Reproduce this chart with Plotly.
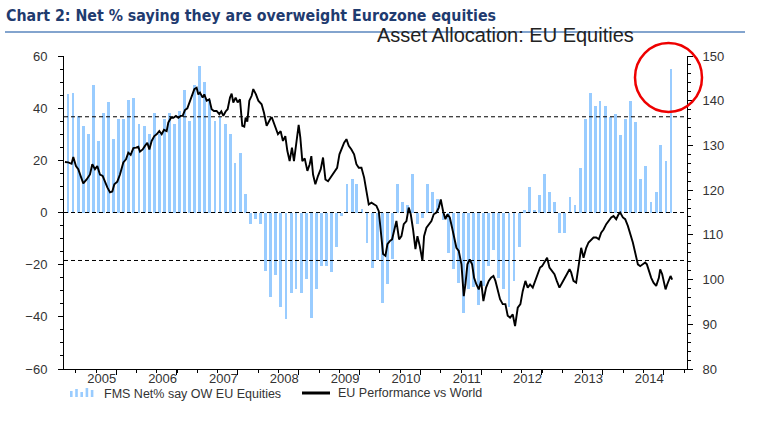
import plotly.graph_objects as go
import pandas as pd

# ---------------- text ----------------
title_text = "Chart 2: Net % saying they are overweight Eurozone equities"
subtitle_text = "Asset Allocation: EU Equities"
bar_name = "FMS Net% say OW EU Equities"
line_name = "EU Performance vs World"

# ---------------- data ----------------
# Monthly FMS net % overweight Eurozone equities, Jun 2004 .. May 2014 (left axis)
first_survey = "2004-06-12"
fms_net_ow = [
    45.5, 46, 37, 33, 30, 49, 27.3, 38, 42.5, 28,
    36, 36, 43, 44, 34, 33, 30, 38, 30, 36,
    38, 34, 39, 47, 35, 49, 56, 50, 43, 35,
    36.5, 34, 30, 19, 23, 7, -4.5, -2.5, -4.5, -22.5,
    -32.3, -24, -36.2, -41, -31, -29.4, -31, -25.5, -40.4, -29.4,
    -20.5, -20.5, -23, -13.2, -1.3, 10.9, 12.8, 10.9, 1.5, -11.7,
    -21.2, -18.4, -34.6, -27.4, -18, 10.9, 4, 2.7, 14.7, -4.3,
    -2, 10.9, 7.8, 5.1, -3, -15.5, -21.5, -27, -38.5, -29.5,
    -28.5, -35.3, -28, -20.6, -14.5, -25, -29.5, -36.2, -26.2, -13.2,
    0.9, 9.8, 0.9, 6.6, 14.7, 7.8, 4, -8, -8, 6,
    2.8, 17, 35.8, 45.8, 40.8, 42.7, 40.8, 36.7, 37.7, 29.6,
    35.8, 42.7, 34.6, 12.8, 17.8, 4, 7.8, 25.8, 19.7, 55,
]

# EU performance vs world (right axis), time in decimal years
perf_year = [
    2004.395, 2004.449, 2004.504, 2004.532, 2004.576, 2004.614, 2004.652, 2004.696, 2004.751, 2004.806,
    2004.844, 2004.888, 2004.926, 2004.970, 2005.014, 2005.053, 2005.091, 2005.135, 2005.173, 2005.206,
    2005.255, 2005.299, 2005.354, 2005.398, 2005.436, 2005.475, 2005.519, 2005.562, 2005.601, 2005.628,
    2005.672, 2005.710, 2005.749, 2005.782, 2005.820, 2005.864, 2005.902, 2005.946, 2005.985, 2006.023,
    2006.067, 2006.094, 2006.138, 2006.177, 2006.220, 2006.259, 2006.297, 2006.330, 2006.368, 2006.407,
    2006.451, 2006.489, 2006.522, 2006.560, 2006.588, 2006.615, 2006.659, 2006.686, 2006.725, 2006.769,
    2006.807, 2006.845, 2006.889, 2006.933, 2006.966, 2006.999, 2007.037, 2007.070, 2007.109, 2007.136,
    2007.163, 2007.202, 2007.235, 2007.273, 2007.311, 2007.344, 2007.366, 2007.394, 2007.427, 2007.465,
    2007.492, 2007.536, 2007.575, 2007.629, 2007.668, 2007.712, 2007.756, 2007.783, 2007.799, 2007.832,
    2007.871, 2007.898, 2007.942, 2007.980, 2008.019, 2008.052, 2008.090, 2008.128, 2008.161, 2008.200,
    2008.238, 2008.265, 2008.298, 2008.337, 2008.381, 2008.419, 2008.446, 2008.474, 2008.512, 2008.556,
    2008.600, 2008.638, 2008.677, 2008.720, 2008.775, 2008.830, 2008.869, 2008.907, 2008.951, 2008.984,
    2009.022, 2009.060, 2009.104, 2009.148, 2009.186, 2009.225, 2009.269, 2009.313, 2009.351, 2009.389,
    2009.433, 2009.477, 2009.515, 2009.554, 2009.598, 2009.625, 2009.663, 2009.696, 2009.735, 2009.773,
    2009.806, 2009.844, 2009.888, 2009.927, 2009.965, 2010.009, 2010.047, 2010.080, 2010.118, 2010.157,
    2010.190, 2010.228, 2010.272, 2010.299, 2010.338, 2010.382, 2010.420, 2010.458, 2010.502, 2010.541,
    2010.574, 2010.612, 2010.650, 2010.683, 2010.722, 2010.760, 2010.793, 2010.831, 2010.870, 2010.914,
    2010.952, 2010.979, 2011.012, 2011.050, 2011.089, 2011.122, 2011.160, 2011.199, 2011.237, 2011.275,
    2011.319, 2011.363, 2011.401, 2011.440, 2011.473, 2011.511, 2011.549, 2011.593, 2011.637, 2011.675,
    2011.714, 2011.758, 2011.796, 2011.840, 2011.884, 2011.922, 2011.966, 2012.004, 2012.043, 2012.087,
    2012.130, 2012.169, 2012.207, 2012.240, 2012.279, 2012.322, 2012.361, 2012.405, 2012.443, 2012.481,
    2012.525, 2012.569, 2012.607, 2012.646, 2012.690, 2012.717, 2012.755, 2012.799, 2012.843, 2012.881,
    2012.920, 2012.964, 2013.002, 2013.046, 2013.084, 2013.128, 2013.172, 2013.210, 2013.249, 2013.293,
    2013.331, 2013.375, 2013.413, 2013.457, 2013.496, 2013.523, 2013.567, 2013.605, 2013.649, 2013.687,
    2013.731, 2013.770, 2013.814, 2013.852, 2013.896, 2013.934, 2013.962, 2013.995, 2014.033, 2014.071,
    2014.115, 2014.159, 2014.181, 2014.214, 2014.241, 2014.269, 2014.296, 2014.324, 2014.351, 2014.378,
]
perf_value = [
    126.3, 126.2, 125.9, 127.4, 125.4, 124.7, 123.2, 121.5, 122.4, 123.5,
    125.8, 124.7, 125.4, 123.5, 123.2, 121.7, 120.6, 119.5, 119.7, 121.3,
    121.9, 123.5, 126.2, 126.9, 128.4, 127.9, 129.4, 129.5, 129.7, 128.6,
    129.1, 129.9, 130.6, 129.1, 131.0, 132.1, 132.5, 133.2, 132.5, 133.5,
    133.2, 135.1, 136.2, 136.2, 136.6, 136.2, 136.6, 136.6, 137.9, 138.3,
    140.0, 141.4, 142.6, 142.9, 141.4, 141.8, 140.7, 141.4, 140.0, 140.3,
    138.1, 137.7, 137.7, 137.0, 137.6, 136.6, 137.6, 138.1, 140.7, 141.6,
    139.6, 140.7, 139.6, 140.3, 134.4, 134.2, 136.2, 135.3, 140.0, 141.1,
    142.6, 141.4, 140.0, 139.2, 137.3, 134.4, 135.4, 136.2, 136.2, 134.9,
    133.6, 132.5, 133.2, 131.0, 132.1, 128.8, 126.5, 129.5, 126.5, 131.0,
    134.6, 131.8, 126.5, 127.1, 124.3, 125.8, 127.6, 123.5, 121.3, 123.2,
    124.7, 127.3, 122.4, 122.0, 123.2, 124.3, 125.0, 128.0, 129.5, 130.6,
    131.4, 129.9, 129.1, 128.0, 125.8, 125.0, 125.0, 122.8, 119.8, 116.8,
    117.2, 116.8, 116.5, 115.3, 109.4, 105.7, 105.3, 107.9, 108.6, 109.0,
    110.9, 113.1, 109.0, 109.7, 112.4, 113.1, 116.1, 114.6, 111.2, 106.8,
    109.7, 107.5, 104.2, 109.7, 111.6, 112.5, 113.1, 114.6, 115.0, 116.1,
    117.9, 115.3, 113.5, 114.6, 113.9, 111.6, 109.7, 107.1, 106.4, 103.4,
    96.3, 98.9, 103.4, 104.5, 103.4, 100.4, 98.9, 97.8, 99.7, 95.2,
    98.2, 99.7, 100.4, 100.8, 99.7, 97.4, 95.6, 94.5, 94.5, 91.9,
    91.5, 92.2, 89.6, 93.7, 94.5, 97.4, 99.7, 98.2, 98.9, 98.2,
    99.7, 101.2, 102.7, 103.0, 103.8, 104.9, 102.7, 101.9, 101.2, 99.7,
    98.2, 99.3, 100.4, 101.2, 102.3, 101.6, 99.7, 99.3, 103.4, 107.1,
    104.9, 107.1, 108.3, 109.0, 109.4, 109.4, 109.0, 110.5, 111.2, 112.4,
    113.1, 113.9, 114.2, 113.5, 114.6, 115.0, 113.9, 113.5, 112.0, 110.5,
    108.3, 106.0, 103.4, 103.0, 103.4, 103.8, 103.4, 101.9, 100.4, 99.3,
    98.6, 100.4, 102.3, 101.2, 99.7, 97.8, 98.9, 100.0, 100.8, 100.0,
]

year_labels = list(range(2005, 2015))
left_ticks = [-60, -40, -20, 0, 20, 40, 60]
right_ticks = [80, 90, 100, 110, 120, 130, 140, 150]
ref_levels = [36.7, 0, -18.4]          # dashed reference lines (left axis)
x_range = ["2004-05-19", "2014-08-16"]

# ---------------- helpers ----------------
def decyear(t):
    y = int(t)
    s = pd.Timestamp(y, 1, 1)
    e = pd.Timestamp(y + 1, 1, 1)
    return s + (e - s) * (t - y)

survey_dates = pd.date_range(first_survey, periods=len(fms_net_ow), freq=pd.DateOffset(months=1))
perf_dates = [decyear(t) for t in perf_year]

W, H = 771, 430
L, R, T, B = 64, 84, 56, 61
PW, PH = W - L - R, H - T - B

def xp(px):
    return (px - L) / PW

def yp(py):
    return (H - B - py) / PH

BAR_BLUE = "#99CCFF"
TXT = "#333333"
NAVY = "#1F3B6F"
AXFONT = dict(family="Liberation Sans, Arial, sans-serif", size=13, color=TXT)
LEGFONT = dict(family="Liberation Sans, Arial, sans-serif", size=12.5, color=TXT)

fig = go.Figure()
fig.add_trace(go.Bar(
    x=survey_dates, y=fms_net_ow, name=bar_name,
    marker=dict(color=BAR_BLUE, line=dict(width=0)),
    width=17 * 86400000, showlegend=False, xaxis="x", yaxis="y",
))
fig.add_trace(go.Scatter(
    x=perf_dates, y=perf_value, name=line_name, mode="lines",
    line=dict(color="black", width=1.9), showlegend=False, xaxis="x", yaxis="y2",
))

shapes = []
for lvl in ref_levels:
    shapes.append(dict(type="line", xref="paper", x0=0, x1=1, yref="y", y0=lvl, y1=lvl,
                       line=dict(color="black", width=1, dash="4px,3px"), layer="above"))
# title rule
shapes.append(dict(type="line", xref="paper", yref="paper", x0=xp(5), x1=xp(745),
                   y0=yp(32), y1=yp(32), line=dict(color="#5A86BE", width=1.5)))
# red highlight circle around latest reading
shapes.append(dict(type="circle", xref="paper", yref="paper", x0=xp(635), x1=xp(702),
                   y0=yp(112), y1=yp(43), line=dict(color="#EE0000", width=2.5)))
# legend icons
icon_h = [6, 8, 5, 9, 7]
for i, h in enumerate(icon_h):
    x0 = 70 + i * 5.2
    shapes.append(dict(type="rect", xref="paper", yref="paper", x0=xp(x0), x1=xp(x0 + 2.6),
                       y0=yp(397), y1=yp(397 - h), fillcolor=BAR_BLUE, line=dict(width=0)))
shapes.append(dict(type="line", xref="paper", yref="paper", x0=xp(302), x1=xp(330),
                   y0=yp(393), y1=yp(393), line=dict(color="black", width=3)))

annotations = [
    dict(text="<b>" + title_text + "</b>", xref="paper", yref="paper", x=xp(4), y=yp(16),
         xanchor="left", yanchor="middle", showarrow=False,
         font=dict(family="DejaVu Sans Condensed, Liberation Sans Narrow, sans-serif",
                   size=15.8, color=NAVY)),
    dict(text=subtitle_text, xref="paper", yref="paper", x=xp(375), y=yp(35), xanchor="left", yanchor="middle",
         showarrow=False, font=dict(family="Liberation Sans, Arial, sans-serif", size=20, color="#222222")),
    dict(text=bar_name, xref="paper", yref="paper", x=xp(102), y=yp(394), xanchor="left", yanchor="middle",
         showarrow=False, font=LEGFONT),
    dict(text=line_name, xref="paper", yref="paper", x=xp(336), y=yp(393), xanchor="left", yanchor="middle",
         showarrow=False, font=LEGFONT),
]

major_x = [pd.Timestamp(y, 3, 28) for y in year_labels]

fig.update_layout(
    width=W, height=H,
    margin=dict(l=L, r=R, t=T, b=B, autoexpand=False),
    paper_bgcolor="white", plot_bgcolor="white",
    bargap=0, showlegend=False,
    shapes=shapes, annotations=annotations,
    xaxis=dict(
        type="date", range=x_range, showgrid=False, zeroline=False,
        showline=True, linecolor="black", linewidth=1,
        tickmode="array", tickvals=[pd.Timestamp(y, 1, 1) for y in year_labels],
        ticktext=[str(y) for y in year_labels], ticks="", tickfont=AXFONT,
        ticklabelstandoff=-3,
        minor=dict(tickmode="linear", tick0="2004-07-28", dtick="M4", ticks="outside",
                   ticklen=3, tickcolor="black", showgrid=False),
    ),
    xaxis2=dict(
        type="date", range=x_range, overlaying="x", anchor="y", side="bottom",
        showgrid=False, zeroline=False, showline=False, showticklabels=False,
        tickmode="array", tickvals=major_x, ticks="outside", ticklen=5, tickcolor="black",
    ),
    yaxis=dict(
        range=[-60, 60], tickmode="array", tickvals=left_ticks, ticks="outside", ticklen=5,
        tickcolor="black", showline=True, linecolor="black", linewidth=1,
        showgrid=False, zeroline=False, tickfont=AXFONT, ticklabelstandoff=8,
        minor=dict(tickmode="linear", tick0=0, dtick=5, ticks="outside", ticklen=3,
                   tickcolor="black", showgrid=False),
    ),
    yaxis2=dict(
        range=[80, 150], overlaying="y", side="right", anchor="x",
        tickmode="array", tickvals=right_ticks, ticks="outside", ticklen=5,
        tickcolor="black", showline=True, linecolor="black", linewidth=1,
        showgrid=False, zeroline=False, tickfont=AXFONT, ticklabelstandoff=7,
        minor=dict(tickmode="linear", tick0=80, dtick=2, ticks="outside", ticklen=3,
                   tickcolor="black", showgrid=False),
    ),
)
# an invisible trace so xaxis2 renders its tick marks
fig.add_trace(go.Scatter(x=[survey_dates[0]], y=[None], xaxis="x2", yaxis="y",
                         showlegend=False, hoverinfo="skip"))

fig.write_html("out.html", config={"displayModeBar": False},
               post_script="document.body.style.margin='0px';")
